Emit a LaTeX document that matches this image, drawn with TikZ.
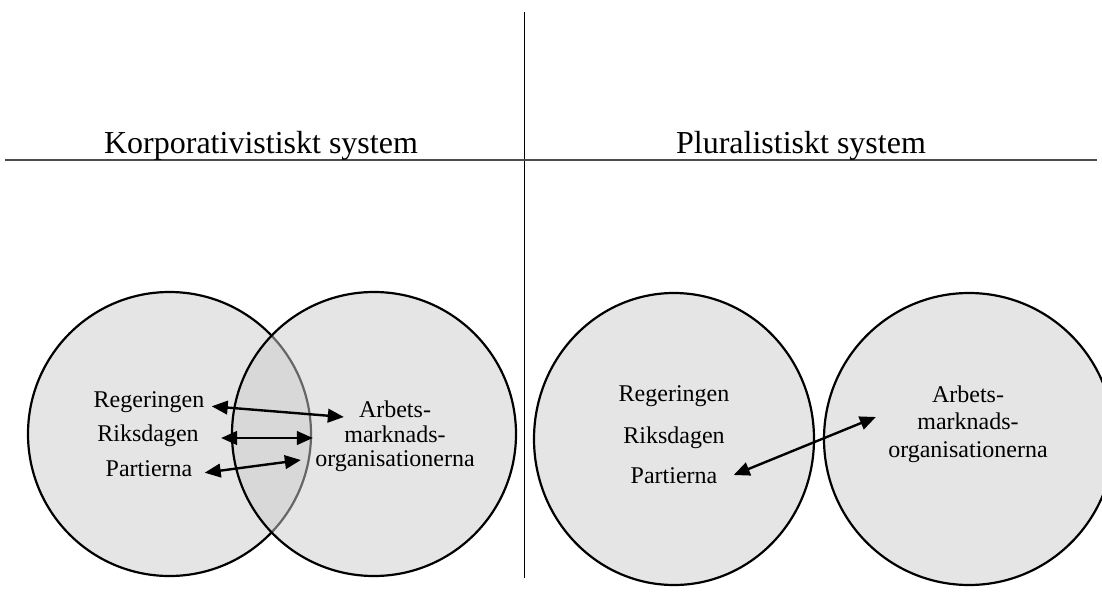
\documentclass[tikz,border=0pt]{standalone}
\usepackage{fontspec}
\setmainfont{Liberation Serif}
\usetikzlibrary{positioning,arrows.meta,shapes.geometric}

\begin{document}
\begin{tikzpicture}[
  x=0.5pt, y=-0.5pt,
  >={Triangle[length=8pt,width=6.8pt]},
  font=\fontsize{12}{14}\selectfont,
  blob/.style={draw, ellipse, line width=1.1pt, inner sep=0pt, fill=black!10},
  overlay/.style={blob, fill=black!20, fill opacity=0.5},
  label/.style={inner sep=0pt, align=center},
  heading/.style={inner sep=0pt, anchor=base, font=\fontsize{16}{19}\selectfont},
  arr/.style={<->, line width=1.2pt}
]
\clip (0,0) rectangle (1102,605);

% dividers
\draw[line width=0.4pt] (524,12) -- (524,578);
\draw[line width=0.9pt, black!70] (5,160) -- (1097,160);

\node[heading] (korp) at (261,153) {Korporativistiskt system};
\node[heading] (plur) at (801,153) {Pluralistiskt system};

% left: overlapping circles
\node[blob, minimum width=141.5pt, minimum height=142pt] (state1) at (169.5,434) {};
\node[overlay, minimum width=142pt, minimum height=142pt] (org1) at (374,434) {};

\node[label] (reg1) at (149,402.3) {Regeringen};
\node[label] (rik1) at (148,436) {Riksdagen};
\node[label] (par1) at (149,468.7) {Partierna};
\node[label, font=\fontsize{12}{12.3}\selectfont] (arb1) at (395,436.5) {Arbets-\\marknads-\\organisationerna};

\draw[arr] ([shift={(7,4)}]reg1.east) -- ([shift={(29,-19.5)}]arb1.west);
\draw[arr] ([shift={(22,2)}]rik1.east) -- ([shift={(-2,1.5)}]arb1.west);
\draw[arr] ([shift={(12,4)}]par1.east) -- ([shift={(-14,23.5)}]arb1.west);

% right: separate circles
\node[blob, minimum width=140pt, minimum height=146pt] (state2) at (674,439) {};
\node[blob, minimum width=145pt, minimum height=146pt] (org2) at (969,439) {};

\node[label] (reg2) at (674,396.5) {Regeringen};
\node[label] (rik2) at (674,437.5) {Riksdagen};
\node[label] (par2) at (674,476) {Partierna};
\node[label, font=\fontsize{12}{13.8}\selectfont] (arb2) at (968,424) {Arbets-\\marknads-\\organisationerna};

\draw[arr] ([shift={(16,-1)}]par2.east) -- ([shift={(-12,-7)}]arb2.west);
\end{tikzpicture}
\end{document}
